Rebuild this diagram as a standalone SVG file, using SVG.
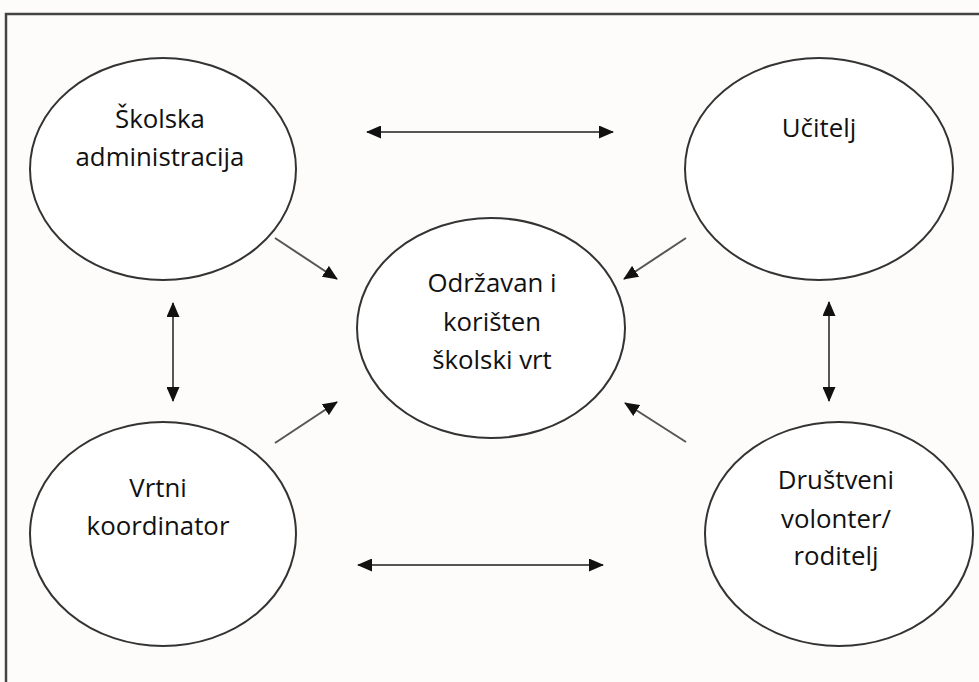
<svg xmlns="http://www.w3.org/2000/svg" width="979" height="682" viewBox="0 0 979 682">
<style>
.node ellipse{fill:#ffffff;stroke:#333;stroke-width:2}
.lbl{font-family:"Open Sans","Liberation Sans",sans-serif;font-size:25.8px;fill:#111;text-anchor:middle}
.conn line{stroke:#555;stroke-width:2}
</style>
<defs>
<marker id="ah" viewBox="0 0 15 13" refX="14" refY="6.5" markerWidth="15" markerHeight="13" markerUnits="userSpaceOnUse" orient="auto-start-reverse">
<path d="M0,0 L15,6.5 L0,13 Z" fill="#111"/>
</marker>
</defs>
<rect x="0" y="0" width="979" height="682" fill="#fdfcfb"/>
<path d="M6,682 V14 H979" fill="none" stroke="#444" stroke-width="2.5"/>
<g id="skolska-administracija" class="node">
<ellipse cx="163" cy="169" rx="133" ry="111"/>
<text class="lbl" x="160" y="128">Školska</text>
<text class="lbl" x="160" y="166">administracija</text>
</g>
<g id="ucitelj" class="node">
<ellipse cx="819" cy="169" rx="134" ry="111"/>
<text class="lbl" x="819" y="137">Učitelj</text>
</g>
<g id="vrt" class="node">
<ellipse cx="491" cy="328" rx="134" ry="110"/>
<text class="lbl" x="492" y="292">Održavan i</text>
<text class="lbl" x="492" y="331">korišten</text>
<text class="lbl" x="492" y="369">školski vrt</text>
</g>
<g id="vrtni-koordinator" class="node">
<ellipse cx="163" cy="534" rx="133" ry="112"/>
<text class="lbl" x="158" y="497">Vrtni</text>
<text class="lbl" x="158" y="535">koordinator</text>
</g>
<g id="drustveni-volonter" class="node">
<ellipse cx="839" cy="534" rx="134" ry="112"/>
<text class="lbl" x="836" y="489">Društveni</text>
<text class="lbl" x="836" y="528">volonter/</text>
<text class="lbl" x="836" y="565">roditelj</text>
</g>
<g id="connectors" class="conn">
<line x1="367" y1="132" x2="613" y2="132" marker-start="url(#ah)" marker-end="url(#ah)"/>
<line x1="358" y1="565" x2="603" y2="565" marker-start="url(#ah)" marker-end="url(#ah)"/>
<line x1="173" y1="303" x2="173" y2="401" marker-start="url(#ah)" marker-end="url(#ah)"/>
<line x1="829" y1="302" x2="829" y2="401" marker-start="url(#ah)" marker-end="url(#ah)"/>
<line x1="275" y1="238" x2="337" y2="279" marker-end="url(#ah)"/>
<line x1="686" y1="238" x2="624" y2="279" marker-end="url(#ah)"/>
<line x1="275" y1="443" x2="337" y2="402" marker-end="url(#ah)"/>
<line x1="686" y1="442" x2="625" y2="403" marker-end="url(#ah)"/>
</g>
</svg>
